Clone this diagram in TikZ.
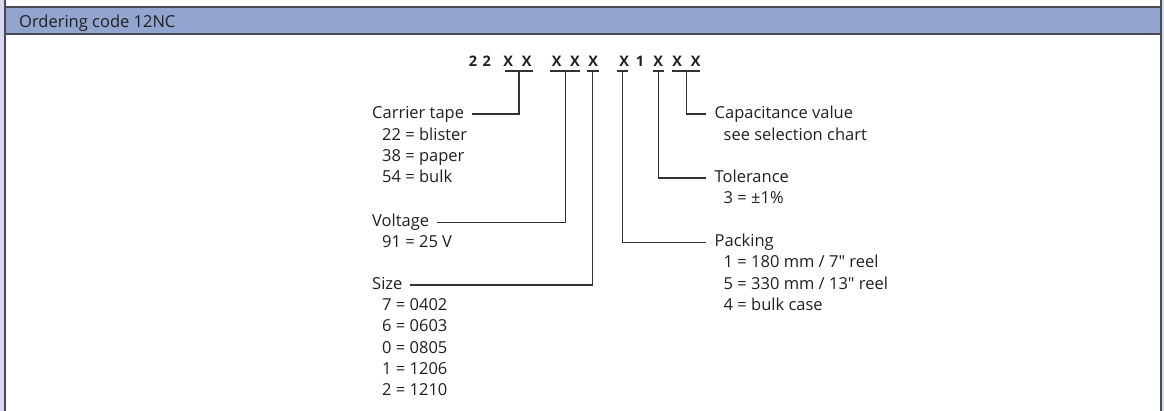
\documentclass[tikz,border=0pt]{standalone}
\usepackage{fontspec}
\setmainfont{Open Sans}
\newfontfamily\plainq{Open Sans}
\definecolor{txt}{HTML}{231F20}
\definecolor{ln}{HTML}{333333}
\definecolor{headfill}{HTML}{91A5CF}
\definecolor{sidefill}{HTML}{D5DBEC}
\definecolor{frame}{HTML}{4A4A55}
\newcommand{\inch}{{\plainq"}}
\begin{document}
\begin{tikzpicture}[x=1pt,y=-1pt,
  lbl/.style={anchor=west, inner sep=0pt, text height=9pt, text depth=0pt,
              font=\fontsize{16.5}{20}\selectfont, text=txt},
  codech/.style={anchor=base, inner sep=0pt, font=\fontsize{14.5}{17}\selectfont\bfseries, text=txt},
  conn/.style={draw=ln, line width=1.1pt},
  frameline/.style={draw=frame, line width=1.4pt},
]
\useasboundingbox (0,0) rectangle (1164,411);
% side strips and frame
\fill[sidefill] (0,0) rectangle (4,411);
\fill[sidefill] (1162,0) rectangle (1164,411);
\fill[headfill] (5,7) rectangle (1161,34);
\draw[frameline] (5,0) -- (5,411);
\draw[frameline] (1161,0) -- (1161,411);
\draw[frameline] (5,7) -- (1161,7);
\draw[frameline] (5,34) -- (1161,34);
\node[anchor=base west, inner sep=0pt, font=\fontsize{16.5}{20}\selectfont, text=txt] (title) at (19,28) {Ordering code 12NC};

% code characters
\node[codech] (c1) at (473,66.7) {2};
\node[codech] (c2) at (486.7,66.7) {2};
\node[codech] (c3) at (508.3,66.7) {X};
\node[codech] (c4) at (526.7,66.7) {X};
\node[codech] (c5) at (556.7,66.7) {X};
\node[codech] (c6) at (575,66.7) {X};
\node[codech] (c7) at (593.3,66.7) {X};
\node[codech] (c8) at (624.3,66.7) {X};
\node[codech] (c9) at (640,66.7) {1};
\node[codech] (c10) at (658.3,66.7) {X};
\node[codech] (c11) at (677.3,66.7) {X};
\node[codech] (c12) at (695.7,66.7) {X};

% underline ends and knee coordinates
\coordinate (u1a) at (505,71);   \coordinate (u1b) at (533,71);   \coordinate (u1) at (519,71);
\coordinate (u2a) at (550,71);   \coordinate (u2b) at (580,71);   \coordinate (u2) at (565.7,71);
\coordinate (u3a) at (586.7,71); \coordinate (u3b) at (599,71);   \coordinate (u3) at (592.7,71);
\coordinate (u4a) at (616.7,71); \coordinate (u4b) at (628.3,71); \coordinate (u4) at (622.7,71);
\coordinate (u5a) at (652.7,71); \coordinate (u5b) at (664,71);   \coordinate (u5) at (658.3,71);
\coordinate (u6a) at (671.7,71); \coordinate (u6b) at (700,71);   \coordinate (u6) at (686.7,71);

% left labels
\node[lbl] (carrier) at (372,114) {Carrier tape};
\node[lbl] (carrier1) at (382,136) {22 = blister};
\node[lbl] (carrier2) at (382,157) {38 = paper};
\node[lbl] (carrier3) at (382,178) {54 = bulk};
\node[lbl] (voltage) at (372,222.5) {Voltage};
\node[lbl] (voltage1) at (382,243.5) {91 = 25 V};
\node[lbl] (size) at (372,285) {Size};
\node[lbl] (size1) at (382,306.5) {7 = 0402};
\node[lbl] (size2) at (382,327.5) {6 = 0603};
\node[lbl] (size3) at (382,348.5) {0 = 0805};
\node[lbl] (size4) at (382,369.5) {1 = 1206};
\node[lbl] (size5) at (382,390.5) {2 = 1210};

% right labels
\node[lbl] (cap) at (714.5,114) {Capacitance value};
\node[lbl] (cap1) at (723.5,136) {see selection chart};
\node[lbl] (tol) at (714.5,178) {Tolerance};
\node[lbl] (tol1) at (723.5,199.5) {3 = ±1\%};
\node[lbl] (pack) at (714.5,242.5) {Packing};
\node[lbl] (pack1) at (723.5,263.5) {1 = 180 mm / 7\inch\ reel};
\node[lbl] (pack2) at (723.5,285) {5 = 330 mm / 13\inch\ reel};
\node[lbl] (pack3) at (723.5,306.5) {4 = bulk case};

% underlines
\foreach \g in {1,...,6} {\draw[conn] (u\g a) -- (u\g b);}

% connectors
\draw[conn] (u1) |- ([xshift=8pt]carrier.east);
\draw[conn] (u2) |- ([xshift=8pt]voltage.east);
\draw[conn] (u3) |- ([xshift=7pt]size.east);
\draw[conn] (u4) |- ([xshift=-8.5pt]pack.west);
\draw[conn] (u5) |- ([xshift=-8.5pt]tol.west);
\draw[conn] (u6) |- ([xshift=-8.5pt]cap.west);
\end{tikzpicture}
\end{document}
